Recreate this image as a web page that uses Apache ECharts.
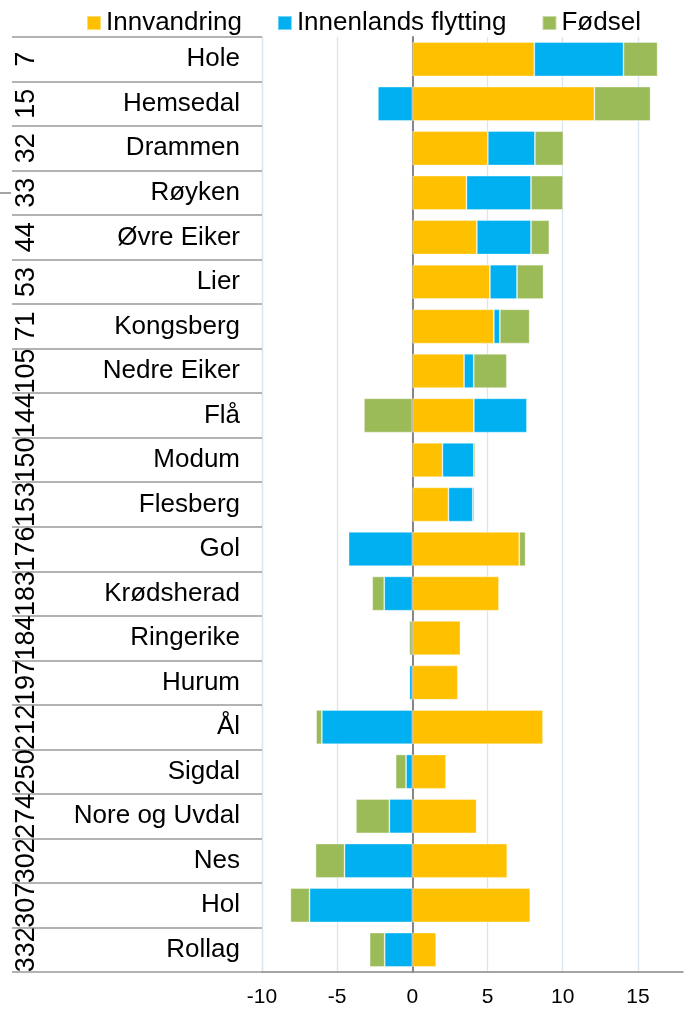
<!DOCTYPE html>
<html>

<head>
    <meta charset="utf-8">
    <title></title>
    <script src="https://cdn.jsdelivr.net/npm/echarts@6/dist/echarts.min.js"></script>
    <style>
        body { margin: 0; background: #fff; }
    </style>
</head>

<body>
    <div id="container" style="width: 690px;height:1010px;"></div>
</body>
<script type="text/javascript">
    var kommuner = ['Hole', 'Hemsedal', 'Drammen', 'Røyken', 'Øvre Eiker', 'Lier', 'Kongsberg', 'Nedre Eiker', 'Flå', 'Modum', 'Flesberg', 'Gol', 'Krødsherad', 'Ringerike', 'Hurum', 'Ål', 'Sigdal', 'Nore og Uvdal', 'Nes', 'Hol', 'Rollag'];
    var rang = ['7', '15', '32', '33', '44', '53', '71', '105', '144', '150', '153', '176', '183', '184', '197', '212', '250', '274', '302', '307', '332'];
    var innvandring = [8.11, 12.11, 5.02, 3.6, 4.29, 5.16, 5.42, 3.44, 4.09, 2.0, 2.4, 7.11, 5.76, 3.2, 3.02, 8.69, 2.24, 4.27, 6.31, 7.84, 1.58];
    var innenlands = [5.93, -2.29, 3.13, 4.29, 3.6, 1.8, 0.4, 0.64, 3.53, 2.09, 1.62, -4.24, -1.87, 0, -0.2, -6.02, -0.42, -1.53, -4.51, -6.84, -1.84];
    var fodsel = [2.27, 3.73, 1.89, 2.13, 1.22, 1.76, 1.98, 2.2, -3.22, 0.11, 0.11, 0.42, -0.8, -0.2, 0, -0.38, -0.69, -2.22, -1.93, -1.27, -1.0];

    var font = "'Liberation Sans', Arial, Helvetica, sans-serif";
    var grå = '#868686';
    var gridfarge = '#dbe5f1';

    var dom = document.getElementById("container");
    var myChart = echarts.init(dom);

    function serie(navn, data, farge) {
        return {
            name: navn,
            type: 'bar',
            stack: 'tot',
            stackStrategy: 'samesign',
            barCategoryGap: '23%',
            data: data,
            itemStyle: {
                color: farge,
                borderColor: 'rgba(255,255,255,0.45)',
                borderWidth: 0.8
            }
        };
    }

    var option = {
        animation: false,
        textStyle: { fontFamily: font },
        legend: {
            left: 81,
            top: 5,
            itemWidth: 14,
            itemHeight: 14,
            itemGap: 35,
            icon: 'rect',
            textStyle: { fontSize: 26, color: '#000', fontFamily: font },
            data: ['Innvandring', 'Innenlands flytting', 'Fødsel']
        },
        grid: {
            left: 262,
            right: 7,
            top: 37,
            bottom: 38
        },
        xAxis: {
            type: 'value',
            min: -10,
            max: 18,
            interval: 5,
            axisLine: { show: true, onZero: false, lineStyle: { color: grå, width: 1.5 } },
            axisTick: { show: false },
            axisLabel: { fontSize: 21, color: '#000', margin: 15, showMaxLabel: false, fontFamily: font },
            splitLine: { show: true, showMaxLine: false, lineStyle: { color: gridfarge, width: 1.3 } }
        },
        yAxis: [{
            type: 'category',
            data: kommuner,
            inverse: true,
            position: 'left',
            axisLine: { onZero: true, lineStyle: { color: grå, width: 2 } },
            axisTick: { length: 6, lineStyle: { color: grå, width: 1.5 } },
            axisLabel: { show: false }
        }, {
            type: 'category',
            data: kommuner,
            inverse: true,
            position: 'left',
            axisLine: { show: true, onZero: false, lineStyle: { color: gridfarge, width: 1.3 } },
            axisTick: { show: true, length: 250, lineStyle: { color: '#9a9a9a', width: 1.5 } },
            axisLabel: { interval: 0, margin: 22, fontSize: 26, color: '#000', fontFamily: font }
        }, {
            type: 'category',
            data: rang,
            inverse: true,
            position: 'left',
            axisLine: { show: false, onZero: false },
            axisTick: { show: false },
            axisLabel: { interval: 0, rotate: 90, margin: 222, fontSize: 27, color: '#000', fontFamily: font }
        }],
        graphic: [{
            type: 'line',
            shape: { x1: 0, y1: 193, x2: 11, y2: 193 },
            style: { stroke: grå, lineWidth: 1.5 }
        }],
        series: [
            serie('Innvandring', innvandring, '#FFC000'),
            serie('Innenlands flytting', innenlands, '#00B0F0'),
            serie('Fødsel', fodsel, '#9BBB59')
        ]
    };
    myChart.setOption(option, true);
</script>

</html>
